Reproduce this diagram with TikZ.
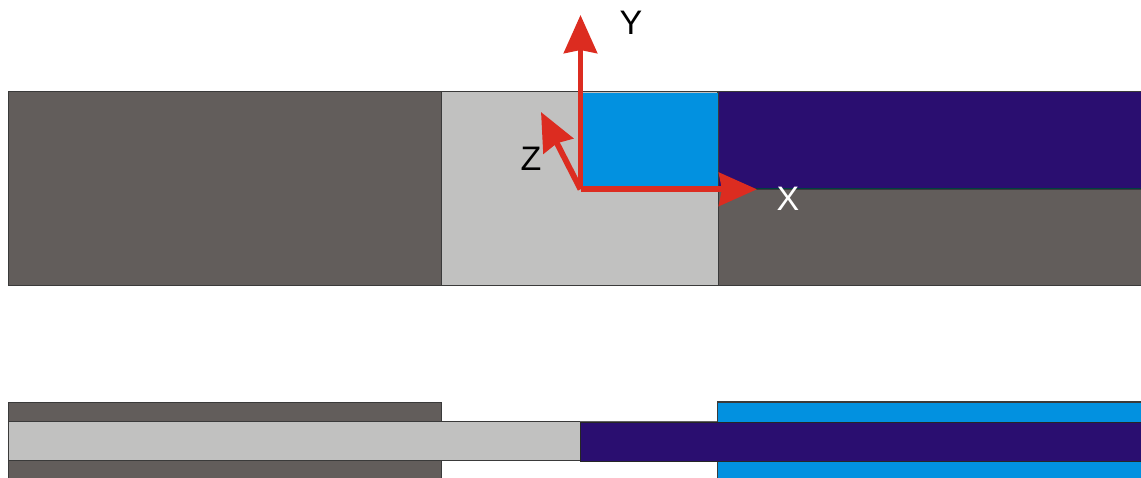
\documentclass[tikz,border=0pt]{standalone}
\usepackage{fontspec}
\setmainfont{Liberation Sans}
\usetikzlibrary{arrows.meta}
\definecolor{darkgrey}{HTML}{625D5B}
\definecolor{lightgrey}{HTML}{C1C1C0}
\definecolor{skyblue}{HTML}{0291E0}
\definecolor{deeppurple}{HTML}{2A0E70}
\definecolor{axisred}{HTML}{DC2C20}
\definecolor{edgegrey}{HTML}{3A3A3A}
\tikzset{
  part/.style={draw=edgegrey,line width=0.9pt},
  axisarrow/.style={draw=axisred,line width=5.8pt,-{Stealth[length=38pt,width=33pt,inset=3pt,fill=axisred]}},
  axislabel/.style={inner sep=0pt,font=\fontsize{34}{34}\selectfont}
}
\begin{document}
\begin{tikzpicture}[x=1pt,y=-1pt]
\useasboundingbox (0,0) rectangle (1141,477);
\fill[white] (0,0) rectangle (1141,477);
% upper view
\draw[part,fill=darkgrey] (8.5,91) rectangle (441.5,285);
\draw[part,fill=lightgrey] (441.5,91) rectangle (718,285);
\draw[part,fill=darkgrey] (718,189) -- (1146,189) -- (1146,285) -- (718,285) -- cycle;
\draw[part,line width=1.6pt,fill=deeppurple] (718,91.5) -- (1146,91.5) -- (1146,188.5) -- (718,188.5) -- cycle;
\fill[skyblue] (580,92.5) rectangle (717.5,188.5);
\draw[draw=teal!50!black,line width=1.2pt] (718,188.7) -- (1146,188.7);
% lower view
\draw[part,fill=darkgrey] (8.5,402) rectangle (441,421);
\draw[part,fill=darkgrey] (8.5,460) -- (441,460) -- (441,482) -- (8.5,482) -- cycle;
\draw[part,line width=1.6pt,fill=skyblue] (717.5,482) -- (717.5,402) -- (1146,402) -- (1146,482) -- cycle;
\draw[part,fill=lightgrey] (8.5,421) rectangle (580,460);
\draw[edgegrey!80,line width=1pt] (580,421) -- (717,421);
\draw[part,draw=black!85,fill=deeppurple] (580,422) -- (1146,422) -- (1146,461) -- (580,461) -- cycle;
% axes
\coordinate (origin) at (580.5,189.3);
\coordinate (xtip) at (757,189.3);
\coordinate (ytip) at (580.5,15);
\coordinate (ztip) at (541,112);
\draw[axisarrow] (origin) -- (xtip);
\draw[axisarrow] (origin) -- (ytip);
\draw[axisarrow] (origin) -- (ztip);
\node[axislabel,text=black] (ylabel) at (631,23) {Y};
\node[axislabel,text=black] (zlabel) at (531,159) {Z};
\node[axislabel,text=white] (xlabel) at (788,199) {X};
\end{tikzpicture}
\end{document}
